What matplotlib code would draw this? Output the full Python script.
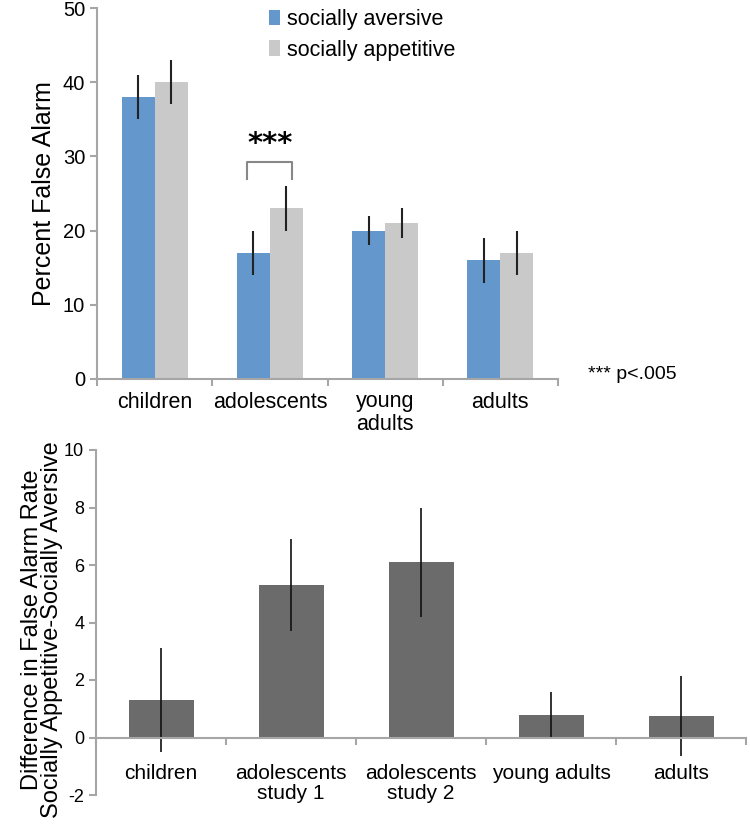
import matplotlib
matplotlib.use("Agg")
import matplotlib.pyplot as plt
import numpy as np

# top panel data
groups = ["children", "adolescents", "young\nadults", "adults"]
aversive = [38, 17, 20, 16]
aversive_err = [3, 3, 2, 3]
appetitive = [40, 23, 21, 17]
appetitive_err = [3, 3, 2, 3]

# bottom panel data
diff_groups = ["children", "adolescents\nstudy 1", "adolescents\nstudy 2", "young adults", "adults"]
diff = [1.3, 5.3, 6.1, 0.8, 0.75]
diff_err = [1.8, 1.6, 1.9, 0.8, 1.4]

BLUE = "#6497CB"
GREY = "#C9C9C9"
DARK = "#6B6B6B"
AXC = "#A6A6A6"
W, H = 750, 833

plt.rcParams['font.family'] = ['Liberation Sans', 'DejaVu Sans']
plt.rcParams['axes.unicode_minus'] = False
fig = plt.figure(figsize=(7.5, 8.33), dpi=100)


def box(l, t, r, b):
    return [l / W, 1 - b / H, (r - l) / W, (b - t) / H]


def style(ax):
    for s in ['top', 'right']:
        ax.spines[s].set_visible(False)
    for s in ['left', 'bottom']:
        ax.spines[s].set_color(AXC)
        ax.spines[s].set_linewidth(1.5)
    ax.tick_params(which='major', color=AXC, width=1.5, length=5)


# ---- top chart
ax1 = fig.add_axes(box(97, 8, 558, 379))
style(ax1)
x = np.arange(len(groups))
bw = 0.287
ax1.bar(x - bw / 2, aversive, bw, color=BLUE, label="socially aversive")
ax1.bar(x + bw / 2, appetitive, bw, color=GREY, label="socially appetitive")
ax1.errorbar(x - bw / 2, aversive, yerr=aversive_err, fmt='none', ecolor='#222222', elinewidth=1.5)
ax1.errorbar(x + bw / 2, appetitive, yerr=appetitive_err, fmt='none', ecolor='#222222', elinewidth=1.5)
ax1.set_xlim(-0.5, len(groups) - 0.5)
ax1.set_ylim(0, 50)
ax1.set_yticks(range(0, 51, 10))
ax1.set_xticks(np.arange(-0.5, len(groups), 1.0))
ax1.set_xticklabels([])
ax1.set_xticks(x, minor=True)
ax1.set_xticklabels(groups, minor=True, fontsize=15.5, va='top', linespacing=1.1)
ax1.tick_params(axis='x', which='minor', length=0, pad=9)
ax1.tick_params(axis='y', labelsize=14.5)
ax1.set_ylabel("Percent False Alarm", fontsize=18)
ax1.yaxis.set_label_coords(-0.09, 0.5)

# significance bracket
bx = [1 - 0.2, 1 - 0.2, 1 + 0.19, 1 + 0.19]
by = [27, 29.2, 29.2, 27]
ax1.plot(bx, by, color='#888888', lw=1.5)
ax1.text(1, 29.8, "***", ha='center', va='bottom', fontsize=21, fontweight='bold',
         family=['DejaVu Sans'])
ax1.legend(loc='upper left', bbox_to_anchor=(0.33, 1.05), frameon=False,
           fontsize=15.5, handlelength=0.55, handleheight=0.7, handletextpad=0.3,
           labelspacing=0.45)
fig.text(588 / W, 1 - 374 / H, "*** p<.005", fontsize=14, va='center', ha='left')

# ---- bottom chart
ax2 = fig.add_axes(box(96, 450, 746, 795))
style(ax2)
x2 = np.arange(len(diff_groups))
ax2.bar(x2, diff, 0.5, color=DARK)
ax2.errorbar(x2, diff, yerr=diff_err, fmt='none', ecolor='#111111', elinewidth=1.2)
ax2.spines['bottom'].set_position(('data', 0))
ax2.set_xlim(-0.5, len(diff_groups) - 0.5)
ax2.set_ylim(-2, 10)
ax2.set_yticks(range(-2, 11, 2))
ax2.set_xticks(np.arange(-0.5, len(diff_groups), 1.0))
ax2.set_xticklabels([])
ax2.set_xticks(x2, minor=True)
ax2.set_xticklabels(diff_groups, minor=True, fontsize=15, va='top', linespacing=1.1)
ax2.tick_params(axis='x', which='minor', length=0, pad=19)
ax2.tick_params(axis='y', labelsize=13)
ax2.set_ylabel("Difference in False Alarm Rate\nSocially Appetitive-Socially Aversive",
               fontsize=17, linespacing=0.92)
ax2.yaxis.set_label_coords(-0.05, 0.48)

fig.savefig("out.png", dpi=100)
